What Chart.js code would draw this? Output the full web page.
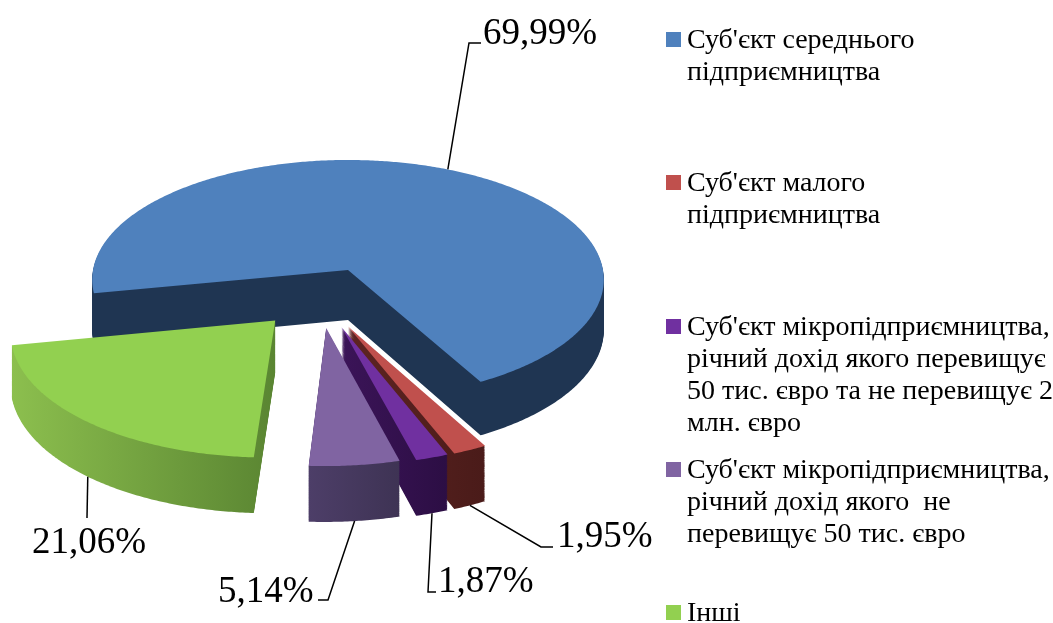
<!DOCTYPE html>
<html>
<head>
<meta charset="utf-8">
<script src="https://cdn.jsdelivr.net/npm/chart.js@4.4.1/dist/chart.umd.min.js"></script>
<style>
  html, body { margin: 0; padding: 0; background: #fff; }
  #wrap { position: relative; width: 1053px; height: 623px; overflow: hidden; }
  #chart { position: absolute; left: 0; top: 0; }
  #legend { position: absolute; left: 666px; top: 0; font-family: "Liberation Serif", "Times New Roman", serif; font-size: 28px; line-height: 32px; color: #000; }
  .item { position: absolute; left: 0; white-space: pre; }
  .box { position: absolute; left: 0; top: 9px; width: 15px; height: 15px; }
  .txt { position: absolute; left: 21px; top: 0; }
</style>
</head>
<body>
<div id="wrap">
  <canvas id="chart" width="1053" height="623"></canvas>
  <div id="legend"></div>
</div>
<script>
// data
const categories = [
    "Суб'єкт середнього\nпідприємництва",
    "Суб'єкт малого\nпідприємництва",
    "Суб'єкт мікропідприємництва,\nрічний дохід якого перевищує\n50 тис. євро та не перевищує 2\nмлн. євро",
    "Суб'єкт мікропідприємництва,\nрічний дохід якого  не\nперевищує 50 тис. євро",
    "Інші"
];
const shares = [69.99, 1.95, 1.87, 5.14, 21.06];
const valueLabels = ['69,99%', '1,95%', '1,87%', '5,14%', '21,06%'];

// styling
const topColors = ['#4F81BD', '#C0504D', '#7030A0', '#8064A2', '#92D050'];
const sideColors = [
    ['#1F3552', '#1F3552'],
    ['#5E2422', '#4A1B19'],
    ['#3B1458', '#2C0E44'],
    ['#4D3E68', '#3E3354'],
    ['#8CBF4E', '#5A8532']
];
const explode = [0, 116, 118, 121, 126];          // pulled-out distance
const explodeToward = [0, 180, 183, 190, 214];     // direction, degrees clockwise from 12 o'clock

const TILT = 0.469;   // vertical squash of the pie
const DEPTH = 50;     // thickness in px
const PERSP = 0.08;   // front of the pie drawn a bit bigger than the back

// pie plane (X right, V toward viewer, h down) -> canvas
function toScreen(arc, X, V, h) {
    const s = 1 + PERSP * V / arc.outerRadius;
    return [arc.x + X * s, arc.y + (V * TILT + h) * s];
}

function sliceWorld(arc, i) {
    const off = arc.options.offset || 0;
    const mid = (arc.startAngle + arc.endAngle) / 2;
    const dir = (explodeToward[i] - 90) * Math.PI / 180;
    const ox = Math.cos(dir) * off;
    const oy = Math.sin(dir) * off;
    const pts = [[ox, oy]];
    const n = Math.max(8, Math.ceil((arc.endAngle - arc.startAngle) / 0.01));
    for (let k = 0; k <= n; k++) {
        const a = arc.startAngle + (arc.endAngle - arc.startAngle) * k / n;
        pts.push([ox + arc.outerRadius * Math.cos(a), oy + arc.outerRadius * Math.sin(a)]);
    }
    return { ox, oy, mid, pts };
}

function facePath(ctx, arc, w, h) {
    ctx.beginPath();
    w.pts.forEach((p, k) => {
        const q = toScreen(arc, p[0], p[1], h);
        if (k === 0) ctx.moveTo(q[0], q[1]);
        else ctx.lineTo(q[0], q[1]);
    });
    ctx.closePath();
}

// draws the arcs as a tilted, extruded (3D-looking) pie
const pie3d = {
    id: 'pie3d',
    beforeDatasetDraw(chart, args) {
        const ctx = chart.ctx;
        const arcs = args.meta.data;
        ctx.save();
        arcs.forEach((arc, i) => {
            const w = sliceWorld(arc, i);
            let minX = Infinity, maxX = -Infinity;
            w.pts.forEach(p => {
                const q = toScreen(arc, p[0], p[1], 0);
                minX = Math.min(minX, q[0]);
                maxX = Math.max(maxX, q[0]);
            });
            const grad = ctx.createLinearGradient(minX, 0, maxX, 0);
            grad.addColorStop(0, sideColors[i][0]);
            grad.addColorStop(1, sideColors[i][1]);
            ctx.fillStyle = grad;
            for (let d = DEPTH; d >= 1; d--) {
                facePath(ctx, arc, w, d);
                ctx.fill();
            }
            ctx.fillStyle = arc.options.backgroundColor;
            facePath(ctx, arc, w, 0);
            ctx.fill();
        });
        ctx.restore();
        return false;
    }
};

// where the percentage labels sit and how their leader lines bend
const labelSpots = [
    { x: 483, y: 44, bend: [469, 43], end: [481, 43], side: false },
    { x: 557, y: 547, bend: [541, 547], end: [553, 547], side: true },
    { x: 438, y: 592, bend: [428, 592], end: [436, 592], side: true },
    { x: 218, y: 602, bend: [328, 600], end: [318, 600], side: true },
    { x: 32, y: 553, bend: [87, 518], end: [87, 518], side: true }
];

const valueLabelPlugin = {
    id: 'valueLabelPlugin',
    afterDatasetsDraw(chart) {
        const ctx = chart.ctx;
        const arcs = chart.getDatasetMeta(0).data;
        ctx.save();
        ctx.strokeStyle = '#000';
        ctx.lineWidth = 1.5;
        ctx.fillStyle = '#000';
        ctx.font = '37px "Liberation Serif", "Times New Roman", serif';
        ctx.textBaseline = 'alphabetic';
        arcs.forEach((arc, i) => {
            const w = sliceWorld(arc, i);
            const spot = labelSpots[i];
            const a = toScreen(arc,
                w.ox + arc.outerRadius * Math.cos(w.mid),
                w.oy + arc.outerRadius * Math.sin(w.mid),
                spot.side ? DEPTH : 0);
            ctx.beginPath();
            ctx.moveTo(a[0], a[1]);
            ctx.lineTo(spot.bend[0], spot.bend[1]);
            ctx.lineTo(spot.end[0], spot.end[1]);
            ctx.stroke();
            ctx.fillText(valueLabels[i], spot.x, spot.y);
        });
        ctx.restore();
    }
};

new Chart(document.getElementById('chart'), {
    type: 'pie',
    data: {
        labels: categories,
        datasets: [{
            data: shares,
            backgroundColor: topColors,
            offset: explode,
            borderWidth: 0
        }]
    },
    options: {
        responsive: false,
        animation: false,
        rotation: 259,
        radius: 255,
        layout: { padding: { left: 0, top: 0, right: 357, bottom: 83 } },
        plugins: {
            legend: { display: false },
            tooltip: { enabled: false }
        }
    },
    plugins: [pie3d, valueLabelPlugin]
});

// legend on the right, text kept as html
const legend = document.getElementById('legend');
categories.forEach((name, i) => {
    const item = document.createElement('div');
    item.className = 'item';
    item.style.top = (23 + i * 143.3) + 'px';
    const box = document.createElement('span');
    box.className = 'box';
    box.style.background = topColors[i];
    const txt = document.createElement('span');
    txt.className = 'txt';
    txt.textContent = name;
    item.appendChild(box);
    item.appendChild(txt);
    legend.appendChild(item);
});
</script>
</body>
</html>
